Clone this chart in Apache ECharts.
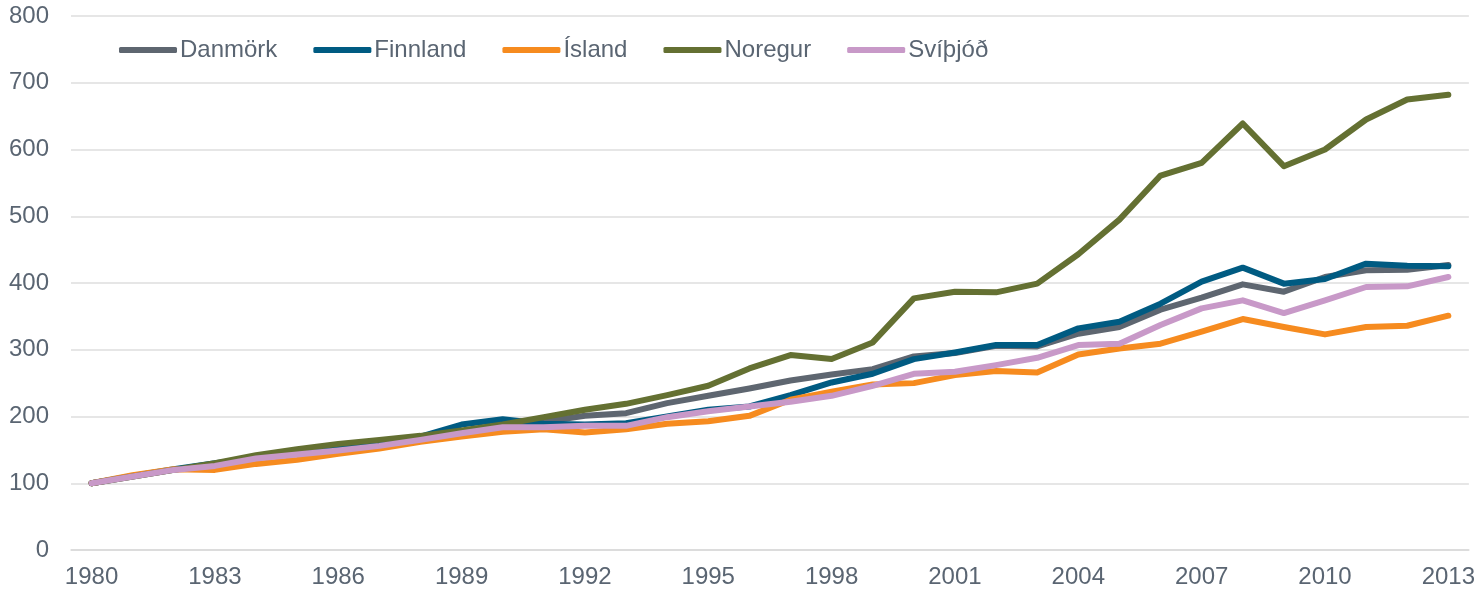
<!DOCTYPE html>
<html>
<head>
<meta charset="utf-8">
<script src="https://cdn.jsdelivr.net/npm/echarts@6/dist/echarts.min.js"></script>
<style>
  html, body { margin: 0; padding: 0; background: #fff; }
  #chart { width: 1478px; height: 589px; }
</style>
</head>
<body>
<div id="chart"></div>
<script>
const years = ['1980', '1981', '1982', '1983', '1984', '1985', '1986', '1987', '1988', '1989',
  '1990', '1991', '1992', '1993', '1994', '1995', '1996', '1997', '1998', '1999',
  '2000', '2001', '2002', '2003', '2004', '2005', '2006', '2007', '2008', '2009',
  '2010', '2011', '2012', '2013']

const danmork = [100, 110, 120, 129, 138, 147, 156, 163, 168, 177, 186, 192, 201, 205, 220, 231, 242, 254, 263, 271,
  290, 295, 306, 305, 324, 334, 360, 378, 398, 387, 409, 419, 420, 427]
const finnland = [100, 111, 121, 130, 138, 146, 154, 162, 170, 188, 196, 189, 188, 190, 200, 210, 215, 232, 251, 264,
  286, 296, 307, 307, 332, 342, 369, 402, 423, 399, 406, 429, 426, 425]
const island = [100, 112, 121, 120, 129, 135, 144, 152, 162, 170, 177, 181, 176, 181, 189, 193, 201, 225, 237, 248,
  250, 262, 268, 266, 293, 302, 309, 327, 346, 334, 323, 334, 336, 351]
const noregur = [100, 110, 120, 130, 142, 151, 159, 165, 171, 179, 188, 199, 210, 219, 232, 246, 272, 292, 286, 311,
  377, 387, 386, 399, 443, 495, 561, 580, 639, 575, 600, 645, 675, 682]
const svithjod = [100, 110, 120, 126, 137, 143, 149, 156, 165, 175, 184, 184, 186, 186, 199, 208, 215, 222, 231, 246,
  264, 267, 277, 288, 307, 309, 337, 362, 374, 355, 374, 394, 395, 409]

const names = ['Danmörk', 'Finnland', 'Ísland', 'Noregur', 'Svíþjóð']
const colors = ['#5e6670', '#005b82', '#f68b1f', '#647032', '#c899c8']
const values = [danmork, finnland, island, noregur, svithjod]

const textColor = '#5a6572'
const font = 'Liberation Sans, Arial, sans-serif'

const chart = echarts.init(document.getElementById('chart'))

const option = {
  animation: false,
  grid: { left: 71, right: 7, top: 16, bottom: 39, containLabel: false },
  legend: {
    left: 114,
    top: 33,
    icon: 'roundRect',
    itemWidth: 58,
    itemHeight: 6,
    itemGap: 36,
    textStyle: { color: textColor, fontSize: 24, fontFamily: font, padding: [0, 0, 0, -2] },
    data: names
  },
  xAxis: {
    type: 'category',
    data: years,
    boundaryGap: true,
    axisLine: { lineStyle: { color: '#d9d9d9', width: 1.5 } },
    axisTick: { show: false },
    axisLabel: { interval: 2, color: textColor, fontSize: 24, fontFamily: font, margin: 15 }
  },
  yAxis: {
    type: 'value',
    min: 0,
    max: 800,
    interval: 100,
    axisLine: { show: false },
    axisTick: { show: false },
    axisLabel: { color: textColor, fontSize: 24, fontFamily: font, margin: 22 },
    splitLine: { lineStyle: { color: '#dedede', width: 1.5 } }
  },
  series: names.map((name, i) => ({
    name,
    type: 'line',
    data: values[i],
    symbol: 'none',
    smooth: false,
    color: colors[i],
    lineStyle: { color: colors[i], width: 6, cap: 'round', join: 'round' }
  }))
}

chart.setOption(option)
</script>
</body>
</html>
